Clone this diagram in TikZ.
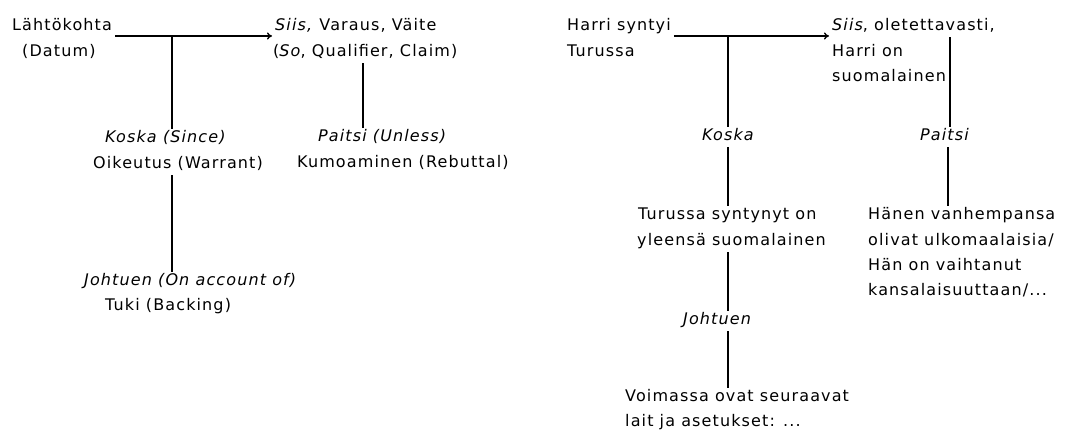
\documentclass[tikz,border=0pt]{standalone}
\usepackage{fontspec}
\setmainfont[LetterSpace=7]{DejaVu Sans}
\usetikzlibrary{calc,arrows.meta}
\begin{document}
\begin{tikzpicture}[x=1pt,y=-1pt,
  lbl/.style={anchor=base west,inner xsep=3pt,inner ysep=3pt,
    text height=11pt,text depth=3pt,
    font=\fontsize{16}{18}\selectfont},
  conn/.style={line width=1.3pt},
  arr/.style={conn,-{To[length=5pt,width=7pt]}}]
\useasboundingbox[fill=white] (0,0) rectangle (1077,430);

% --- general Toulmin scheme ---
\node[lbl] (lahto)  at (9,31)   {Lähtökohta};
\node[lbl] (datum)  at (19,57)  {(Datum)};
\node[lbl] (siis1)  at (272,31) {\textit{Siis,} Varaus, Väite};
\node[lbl] (soq)    at (270,57) {(\textit{So}, Qualifier, Claim)};
\node[lbl] (koska1) at (102,143) {\textit{Koska (Since)}};
\node[lbl] (oik)    at (90,169)  {Oikeutus (Warrant)};
\node[lbl] (joht1)  at (81,286)  {\textit{Johtuen (On account of)}};
\node[lbl] (tuki)   at (102,311) {Tuki (Backing)};
\node[lbl] (pait1)  at (315,142) {\textit{Paitsi (Unless)}};
\node[lbl] (kumo)   at (294,168) {Kumoaminen (Rebuttal)};

\coordinate (j1) at (172,36);
\coordinate (r1) at (363,60);
\draw[arr] (lahto.east |- j1) -- (siis1.west |- j1);
\draw[conn] (j1) -- (j1 |- koska1.north);
\draw[conn] (j1 |- oik.south) -- (j1 |- joht1.north);
\draw[conn] (r1 |- soq.south) -- (r1 |- pait1.north);

% --- worked example ---
\node[lbl] (harri)  at (564,31)  {Harri syntyi};
\node[lbl] (turku)  at (564,57)  {Turussa};
\node[lbl] (siis2)  at (829,31)  {\textit{Siis}, oletettavasti,};
\node[lbl] (harrio) at (829,57)  {Harri on};
\node[lbl] (suomi)  at (829,82)  {suomalainen};
\node[lbl] (koska2) at (699,141) {\textit{Koska}};
\node[lbl] (pait2)  at (917,141) {\textit{Paitsi}};
\node[lbl] (tur2)   at (635,220) {Turussa syntynyt on};
\node[lbl] (yle)    at (634,246) {yleensä suomalainen};
\node[lbl] (hanen)  at (865,220) {Hänen vanhempansa};
\node[lbl] (oliv)   at (865,246) {olivat ulkomaalaisia/};
\node[lbl] (han)    at (865,271) {Hän on vaihtanut};
\node[lbl] (kans)   at (865,296) {kansalaisuuttaan/...};
\node[lbl] (joht2)  at (680,325) {\textit{Johtuen}};
\node[lbl] (voim)   at (622,402) {Voimassa ovat seuraavat};
\node[lbl] (lait)   at (622,426) {lait ja asetukset: ...};

\coordinate (j2) at (728,36);
\coordinate (r2) at (950,36);
\coordinate (r3) at (948,150);
\draw[arr] (harri.east |- j2) -- (siis2.west |- j2);
\draw[conn] (j2) -- (j2 |- koska2.north);
\draw[conn] (j2 |- koska2.south) -- (j2 |- tur2.north);
\draw[conn] (j2 |- yle.south) -- (j2 |- joht2.north);
\draw[conn] (j2 |- joht2.south) -- (j2 |- voim.north);
\draw[conn] (r2 |- siis2.south) -- (r2 |- pait2.north);
\draw[conn] (r3 |- pait2.south) -- (r3 |- hanen.north);
\end{tikzpicture}
\end{document}
